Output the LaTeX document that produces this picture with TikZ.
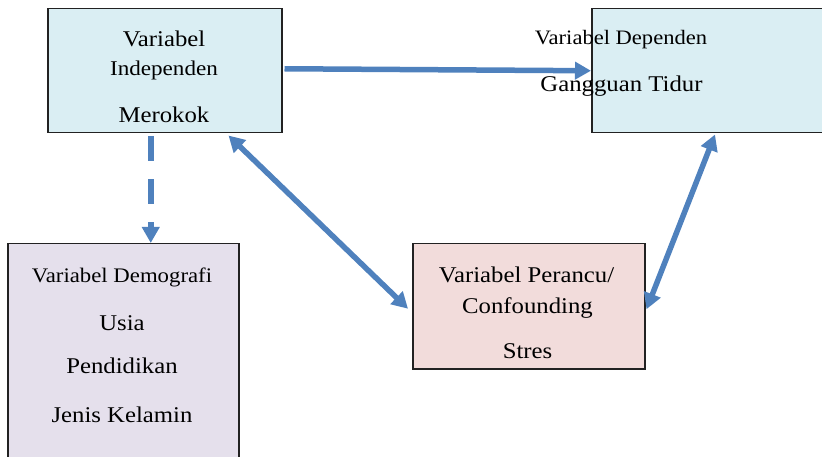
\documentclass[tikz,border=0pt]{standalone}
\usepackage{fontspec}
\setmainfont[FakeStretch=1.1]{Liberation Serif}
\usetikzlibrary{arrows.meta,calc}
\definecolor{boxblue}{HTML}{DAEEF3}
\definecolor{boxlilac}{HTML}{E5E0EC}
\definecolor{boxpink}{HTML}{F2DCDB}
\definecolor{arrowblue}{HTML}{4F81BD}
\definecolor{edge}{HTML}{222222}
\tikzset{
  varbox/.style={draw=edge, line width=1.5pt, anchor=north west, inner sep=0pt, minimum width=#1},
  txt/.style={anchor=base, inner sep=0pt, text=black, font=\fontsize{22.5}{26}\selectfont},
  smalltxt/.style={anchor=base, inner sep=0pt, text=black, font=\fontsize{#1}{#1}\selectfont},
  conn/.style={draw=arrowblue, line width=5.5pt, -{Triangle[length=16pt,width=17pt]}},
  dconn/.style={draw=arrowblue, line width=5.5pt, {Triangle[length=16pt,width=17pt]}-{Triangle[length=16pt,width=17pt]}},
  dashconn/.style={draw=arrowblue, line width=6pt, dash pattern=on 25pt off 18pt, -{Triangle[length=16pt,width=17pt]}},
}
\begin{document}
\begin{tikzpicture}[x=1pt,y=-1pt]
\useasboundingbox (0,0) rectangle (822,457);
\clip (0,0) rectangle (822,457);
% boxes
\node[varbox=234pt, fill=boxblue, minimum height=124pt] (A) at (47,8) {};
\node[varbox=240pt, fill=boxblue, minimum height=124pt] (B) at (591,8) {};
\node[varbox=231pt, fill=boxlilac, minimum height=225pt] (C) at (7,243) {};
\node[varbox=232pt, fill=boxpink, minimum height=125pt] (D) at (412,243) {};
% texts
\node[txt] (a1) at (164,47) {Variabel};
\node[smalltxt=21] (a2) at (164,76) {Independen};
\node[txt] (a3) at (164,123) {Merokok};
\node[smalltxt=20.5] (b1) at (621,45) {Variabel Dependen};
\node[txt] (b2) at (621.5,92) {Gangguan Tidur};
\node[smalltxt=20.7] (c1) at (122,282) {Variabel Demografi};
\node[txt] (c2) at (122,330) {Usia};
\node[txt] (c3) at (122,373) {Pendidikan};
\node[txt] (c4) at (122,422) {Jenis Kelamin};
\node[txt] (d1) at (526.5,283) {Variabel Perancu/};
\node[txt] (d2) at (527.5,313) {Confounding};
\node[txt] (d3) at (527.5,358) {Stres};
% connectors
\coordinate (ab1) at ($(A.east)+(2,-2)$);
\coordinate (ab2) at (B.west);
\draw[conn] (ab1) -- (ab2);
\coordinate (ac1) at ($(A.south)+(-14,3)$);
\coordinate (ac2) at ($(C.north)+(27.5,0)$);
\draw[dashconn] (ac1) -- (ac2);
\coordinate (ad1) at ($(A.south east)+(-54,2)$);
\coordinate (ad2) at ($(D.west)+(-4,2.5)$);
\draw[dconn] (ad1) -- (ad2);
\coordinate (bd1) at ($(B.south west)+(124,1)$);
\coordinate (bd2) at ($(D.east)+(1,3)$);
\draw[dconn] (bd1) -- (bd2);
\end{tikzpicture}
\end{document}
